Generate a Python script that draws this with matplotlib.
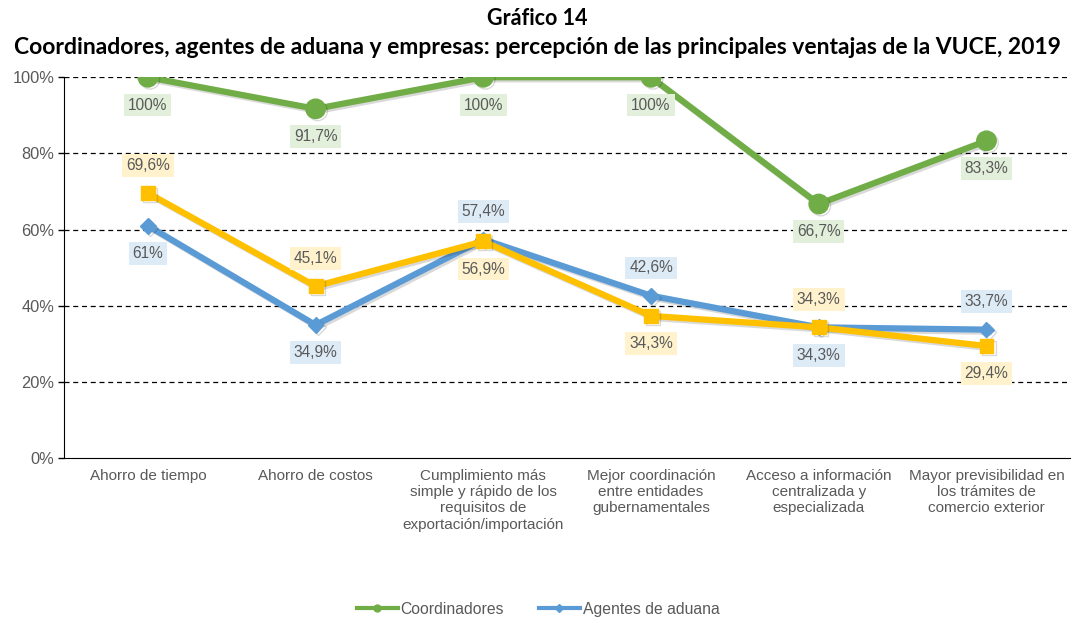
import matplotlib.pyplot as plt
import matplotlib.patheffects as pe
from matplotlib.lines import Line2D

# Datos
categorias = [
    "Ahorro de tiempo",
    "Ahorro de costos",
    "Cumplimiento más\nsimple y rápido de los\nrequisitos de\nexportación/importación",
    "Mejor coordinación\nentre entidades\ngubernamentales",
    "Acceso a información\ncentralizada y\nespecializada",
    "Mayor previsibilidad en\nlos trámites de\ncomercio exterior",
]
coordinadores = [100, 91.7, 100, 100, 66.7, 83.3]
agentes = [61, 34.9, 57.4, 42.6, 34.3, 33.7]
empresas = [69.6, 45.1, 56.9, 37.3, 34.3, 29.4]

lab_coord = ["100%", "91,7%", "100%", "100%", "66,7%", "83,3%"]
lab_agentes = ["61%", "34,9%", "57,4%", "42,6%", "34,3%", "33,7%"]
lab_empresas = ["69,6%", "45,1%", "56,9%", "34,3%", "34,3%", "29,4%"]

# posición de la etiqueta: +1 arriba, -1 abajo
pos_coord = [-1, -1, -1, -1, -1, -1]
pos_agentes = [-1, -1, 1, 1, -1, 1]
pos_empresas = [1, 1, -1, -1, 1, -1]

verde = "#70AD47"
azul = "#5B9BD5"
amarillo = "#FFC000"
gris = "#595959"

fig = plt.figure(figsize=(10.74, 6.23), dpi=100)
ax = fig.add_axes([0.0596, 0.265, 0.937, 0.611])

x = list(range(len(categorias)))
sombra = [pe.SimpleLineShadow(offset=(1.5, -1.5), alpha=0.15, shadow_color="black"), pe.Normal()]

ax.plot(x, agentes, color=azul, lw=4.5, marker="D", ms=8, zorder=3, path_effects=sombra)
ax.plot(x, empresas, color=amarillo, lw=4.5, marker="s", ms=10, zorder=4, path_effects=sombra)
ax.plot(x, coordinadores, color=verde, lw=4.5, marker="o", ms=14, zorder=5, path_effects=sombra)


def etiquetas(valores, textos, posiciones, fondo):
    for i, (v, t, p) in enumerate(zip(valores, textos, posiciones)):
        ax.annotate(t, (i, v), xytext=(0, 20 * p), textcoords="offset points",
                    ha="center", va="center", fontsize=11.2, color=gris,
                    family="Liberation Sans",
                    bbox=dict(boxstyle="square,pad=0.25", fc=fondo, ec="none"),
                    zorder=6)


etiquetas(coordinadores, lab_coord, pos_coord, "#E2EFDA")
etiquetas(agentes, lab_agentes, pos_agentes, "#DDEBF7")
etiquetas(empresas, lab_empresas, pos_empresas, "#FFF2CC")

ax.set_xlim(-0.5, len(categorias) - 0.5)
ax.set_ylim(0, 100)
ax.set_yticks([0, 20, 40, 60, 80, 100])
ax.set_yticklabels(["0%", "20%", "40%", "60%", "80%", "100%"], fontsize=11.8,
                   color=gris, family="Liberation Sans")
ax.set_xticks(x)
ax.set_xticklabels(categorias, fontsize=11, color=gris, family="Liberation Sans",
                   linespacing=1.2)
ax.tick_params(axis="x", length=0, pad=8)
ax.tick_params(axis="y", length=4, width=1, color="black", pad=3)

for yv in [20, 40, 60, 80, 100]:
    ax.axhline(yv, color="black", lw=0.9, ls=(0, (4, 3)), zorder=1)

ax.spines["top"].set_visible(False)
ax.spines["right"].set_visible(False)
ax.spines["left"].set_color("black")
ax.spines["bottom"].set_color("black")

fig.text(0.5, 0.971, "Gráfico 14", ha="center", va="center", fontsize=15.5,
         fontweight="bold", family="Lato")
fig.text(0.5, 0.924, "Coordinadores, agentes de aduana y empresas: percepción de las principales ventajas de la VUCE, 2019",
         ha="center", va="center", fontsize=16.5, fontweight="bold", family="Lato")

handles = [
    Line2D([], [], color=verde, lw=3, marker="o", ms=5),
    Line2D([], [], color=azul, lw=3, marker="D", ms=4),
]
fig.legend(handles, ["Coordinadores", "Agentes de aduana"], loc="center",
           bbox_to_anchor=(0.501, 0.022), ncol=2, frameon=False,
           prop={"family": "Liberation Sans", "size": 11.3}, labelcolor=gris,
           handlelength=2.6, handletextpad=0.2, columnspacing=2.2)

fig.savefig("out.png", dpi=100)
